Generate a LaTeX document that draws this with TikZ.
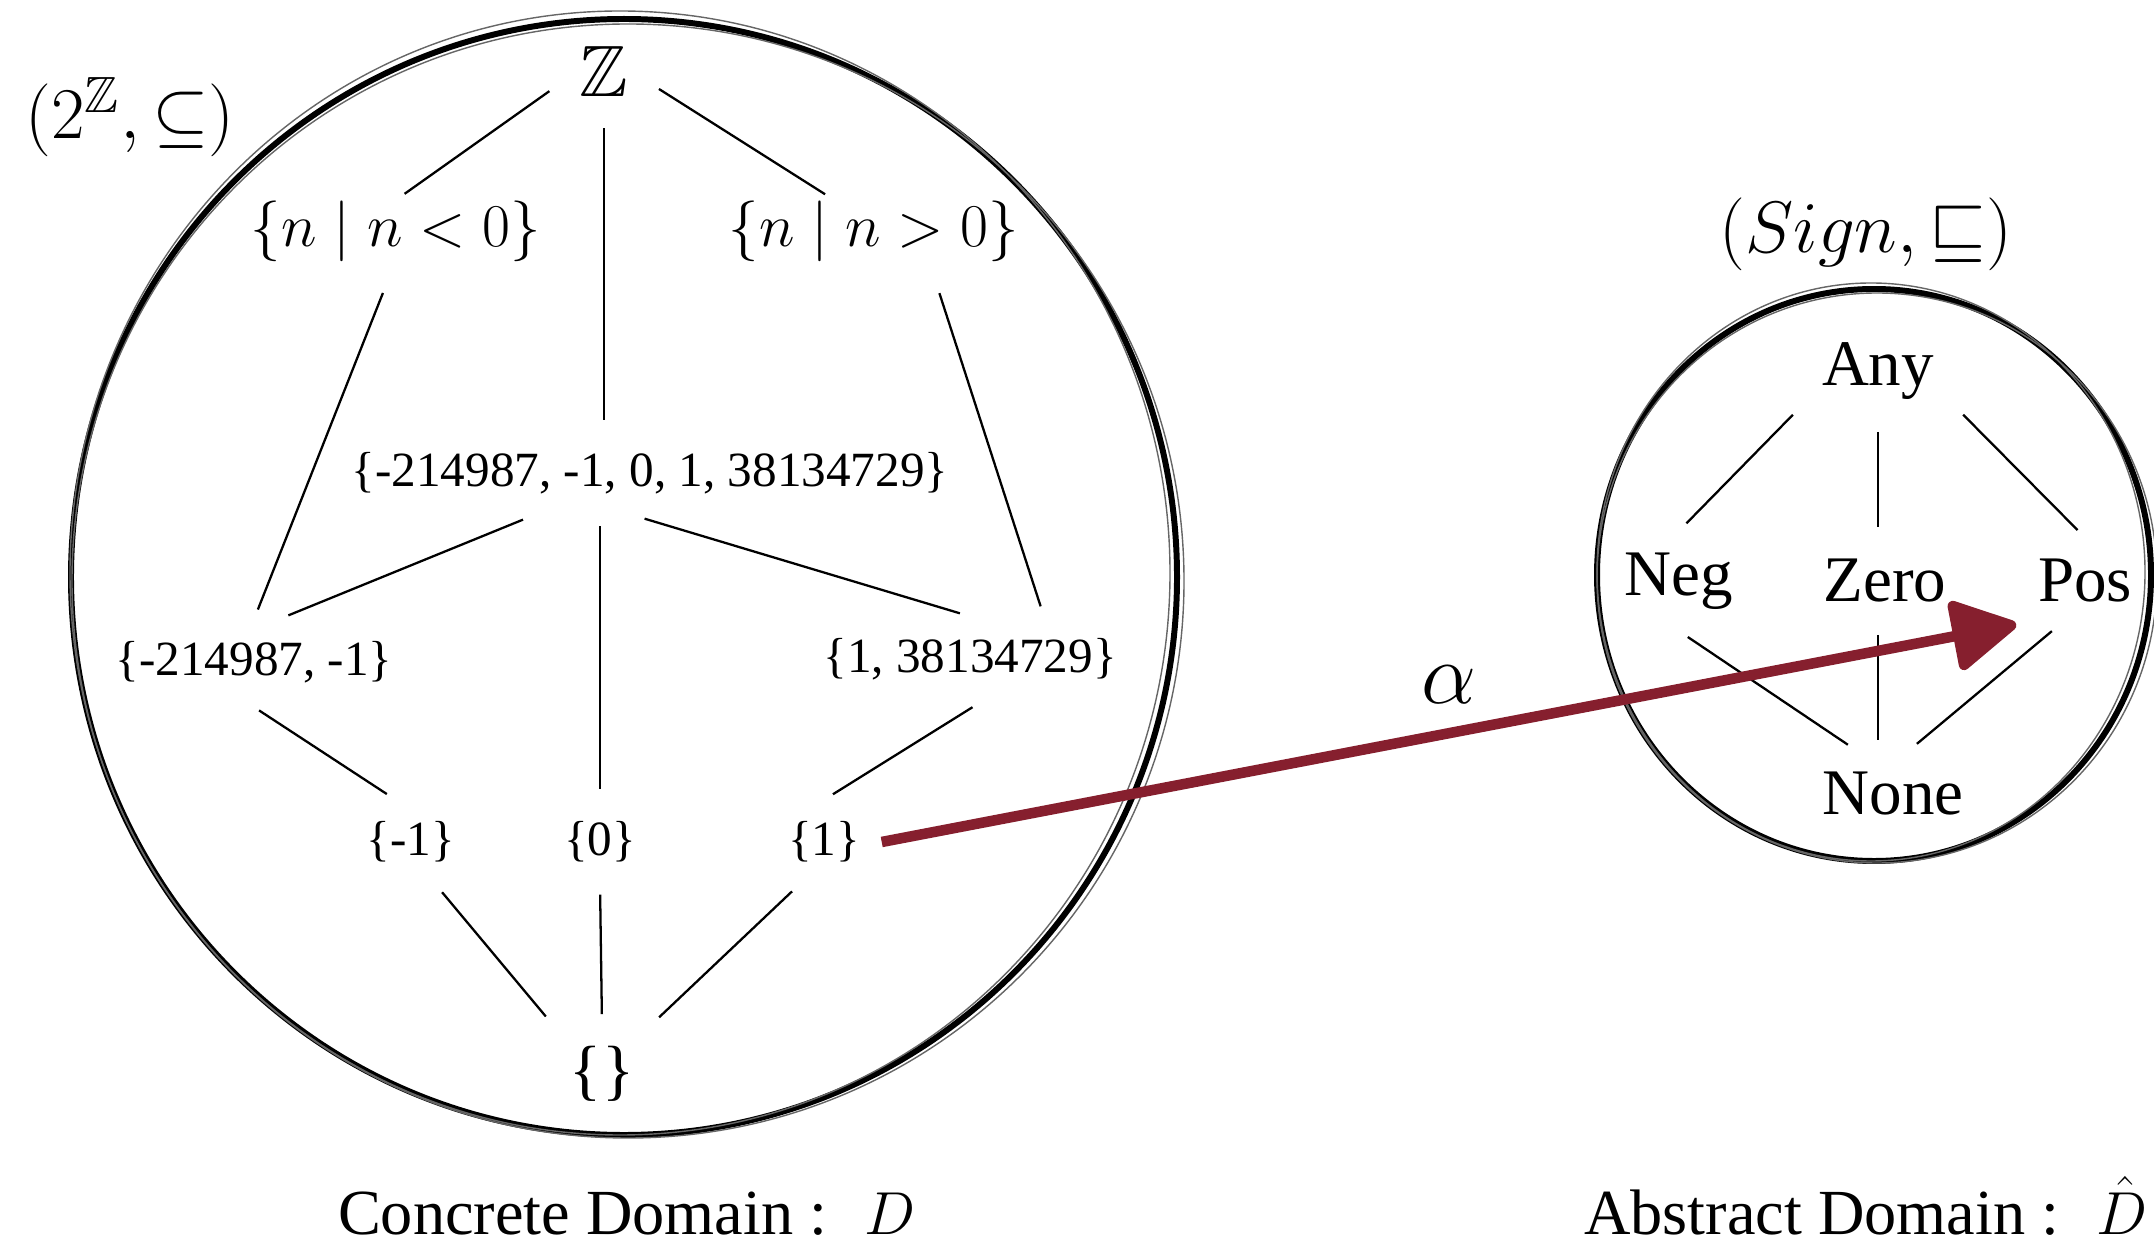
\documentclass[tikz,border=0pt]{standalone}
\usepackage{amssymb}
\usepackage{fontspec}
\setmainfont{Liberation Serif}
\usetikzlibrary{arrows.meta, calc}
\definecolor{AlphaRed}{RGB}{134,31,46}

\begin{document}
\begin{tikzpicture}[
  lat/.style={line width=0.65pt, shorten <=3pt, shorten >=3pt},
  elem/.style={inner sep=6pt, font=\fontsize{14}{16}\selectfont},
  setnode/.style={inner sep=6pt, font=\fontsize{18.3}{21}\selectfont},
  sgn/.style={inner sep=6pt, font=\fontsize{18.5}{21}\selectfont},
  ttl/.style={inner sep=6pt, font=\fontsize{20.7}{25}\selectfont},
  domcap/.style={anchor=base, font=\fontsize{18.3}{22}\selectfont},
  rim/.style={line width=1.7pt},
  rimfaint/.style={line width=0.4pt, black!60},
  alpha arrow/.style={AlphaRed, line width=3pt,
    -{Triangle[round, length=7mm, width=7.5mm]}},
]
  \useasboundingbox (0,0) rectangle (21.54,12.44);

  % -------- the two domains --------
  \draw[rim] (6.24,6.67) ellipse [x radius=5.53, y radius=5.58];
  \draw[rimfaint] (6.28,6.63) ellipse [x radius=5.56, y radius=5.57];
  \draw[rimfaint] (6.20,6.71) ellipse [x radius=5.50, y radius=5.62];
  \draw[rim] (18.74,6.69) ellipse [x radius=2.77, y radius=2.86];
  \draw[rimfaint] (18.77,6.66) ellipse [x radius=2.80, y radius=2.85];
  \draw[rimfaint] (18.71,6.72) ellipse [x radius=2.74, y radius=2.89];

  % -------- concrete lattice --------
  \node[ttl] (pow) at (1.30,11.27) {$(2^{\mathbb{Z}},\subseteq)$};
  \node[ttl] (Z) at (6.04,11.73) {$\mathbb{Z}$};
  \node[setnode] (neg) at (3.96,10.13) {$\{n \mid n<0\}$};
  \node[setnode] (pos) at (8.74,10.13) {$\{n \mid n>0\}$};
  \node[elem] (big) at (6.50,7.71) {\{-214987, -1, 0, 1, 38134729\}};
  \node[elem] (negpair) at (2.54,5.82) {\{-214987, -1\}};
  \node[elem] (pospair) at (9.70,5.85) {\{1, 38134729\}};
  \node[elem] (m1) at (4.11,4.02) {\{-1\}};
  \node[elem] (z0) at (6.00,4.02) {\{0\}};
  \node[elem] (p1) at (8.24,4.02) {\{1\}};
  \node[elem, font=\fontsize{19}{22}\selectfont] (empty) at (6.02,1.70) {\{\}};
  \node[domcap] (conc) at (6.27,0.10) {Concrete Domain : \ $D$};

  \draw[lat] (Z.197) -- ([yshift=-6pt]neg.north);
  \draw[lat] (Z.-15) -- ([xshift=-4mm, yshift=-6pt]pos.north);
  \draw[lat] (Z.south) -- (Z |- big.north);
  \draw[lat] (neg.-100) -- (negpair.north);
  \draw[lat] (pos.-40) -- (pospair.30);
  \draw[lat] (big.-160) -- (negpair.60);
  \draw[lat] (z0 |- big.south) -- (z0.north);
  \draw[lat] (big.-110) -- (pospair.north);
  \draw[lat] (negpair.-95) -- (m1.110);
  \draw[lat] (pospair.-75) -- (p1.north);
  \draw[lat] (m1.-60) -- (empty.135);
  \draw[lat] (z0.south) -- (empty.north);
  \draw[lat] (p1.-120) -- (empty.45);

  % -------- abstract lattice --------
  \node[ttl] (sign) at (18.66,10.10) {$(Sign,\sqsubseteq)$};
  \node[sgn] (Any) at (18.78,8.73) {Any};
  \node[sgn] (Neg) at (16.79,6.63) {Neg};
  \node[sgn] (Zero) at (18.85,6.63) {Zero};
  \node[sgn] (Pos) at (20.85,6.63) {Pos};
  \node[sgn] (None) at (18.93,4.50) {None};
  \node[domcap] (abst) at (18.66,0.10) {Abstract Domain : \ $\hat{D}$};

  \draw[lat] (Any.205) -- (Neg.north);
  \draw[lat] (Any.south) -- (Any |- Zero.north);
  \draw[lat] (Any.-25) -- (Pos.north);
  \draw[lat] (Neg.south) -- (None.130);
  \draw[lat] (Any |- Zero.south) -- (Any |- None.north);
  \draw[lat] (Pos.-120) -- (None.70);

  % -------- abstraction --------
  \draw[alpha arrow] (p1.east) -- node[ttl, text=black, font=\fontsize{25}{28}\selectfont,
    above=1pt, pos=0.5] (alpha) {$\alpha$} (Pos.south west);
\end{tikzpicture}
\end{document}
